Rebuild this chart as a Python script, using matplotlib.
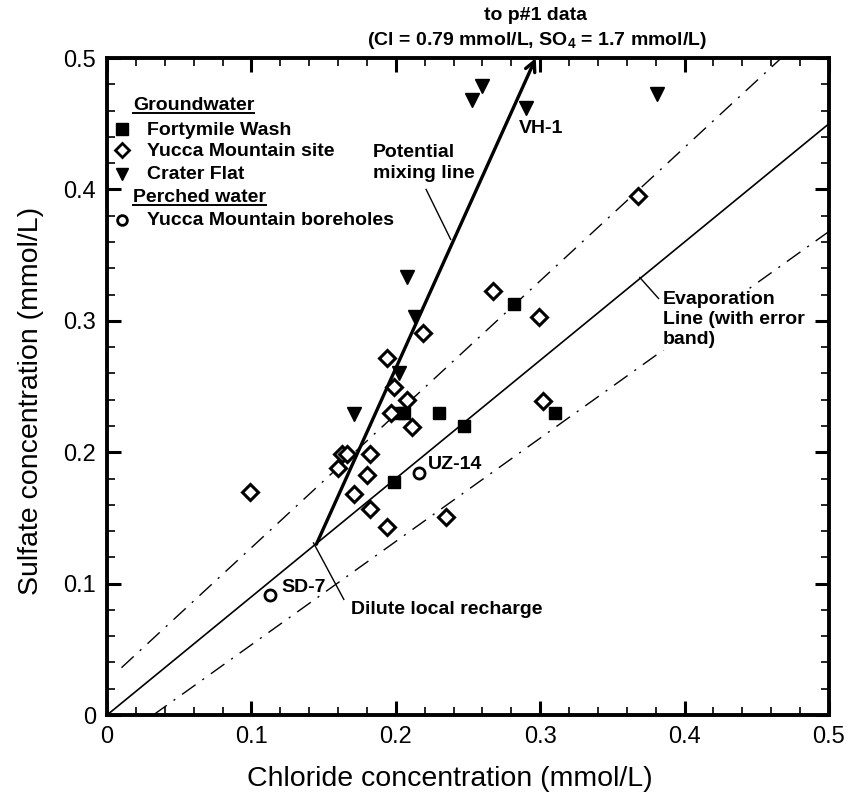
import numpy as np
import matplotlib
matplotlib.use("Agg")
import matplotlib.pyplot as plt
from matplotlib.ticker import MultipleLocator

plt.rcParams["font.family"] = ["Liberation Sans", "DejaVu Sans"]
plt.rcParams["mathtext.fontset"] = "custom"
plt.rcParams["mathtext.bf"] = "Liberation Sans:bold"
plt.rcParams["mathtext.rm"] = "Liberation Sans"

# Fortymile Wash groundwater (filled squares)
fw_cl = [0.282, 0.310, 0.230, 0.247, 0.199, 0.202, 0.206]
fw_so4 = [0.313, 0.230, 0.230, 0.220, 0.177, 0.230, 0.230]

# Yucca Mountain site groundwater (open diamonds)
ym_cl = [0.368, 0.267, 0.299, 0.302, 0.219, 0.194, 0.199, 0.208, 0.197, 0.211,
         0.163, 0.166, 0.182, 0.160, 0.180, 0.171, 0.182, 0.194, 0.235, 0.099]
ym_so4 = [0.395, 0.323, 0.303, 0.239, 0.291, 0.272, 0.250, 0.240, 0.230, 0.219,
          0.199, 0.199, 0.199, 0.188, 0.183, 0.168, 0.157, 0.143, 0.151, 0.170]

# Crater Flat groundwater (filled down triangles)
cf_cl = [0.260, 0.253, 0.290, 0.381, 0.208, 0.213, 0.202, 0.171]
cf_so4 = [0.479, 0.468, 0.462, 0.473, 0.333, 0.303, 0.260, 0.229]

# Perched water, Yucca Mountain boreholes (open circles)
pw_cl = [0.113, 0.216]
pw_so4 = [0.091, 0.184]

# evaporation line and error band
evap_x = [0.0, 0.5]
evap_y = [0.0, 0.45]
upper_x = [0.01, 0.467]
upper_y = [0.036, 0.5]
lower_x = [0.032, 0.5]
lower_y = [0.0, 0.368]

# potential mixing line: dilute local recharge -> p#1 data
mix_start = (0.145, 0.130)
mix_end = (0.297, 0.500)

fig = plt.figure(figsize=(8.59, 7.95), dpi=100)
ax = fig.add_axes([0.1246, 0.1006, 0.8404, 0.8264])

dashdot = (0, (12, 6, 1.5, 6))
ax.plot(evap_x, evap_y, color="black", lw=1.2)
ax.plot(upper_x, upper_y, color="black", lw=1.0, linestyle=dashdot)
ax.plot(lower_x, lower_y, color="black", lw=1.0, linestyle=dashdot)

ax.annotate("", xy=mix_end, xytext=mix_start,
            arrowprops=dict(arrowstyle="->", lw=2.4, color="black",
                            shrinkA=0, shrinkB=0, mutation_scale=18),
            annotation_clip=False)

mk = dict(linestyle="none", color="black", clip_on=False, zorder=5)
ax.plot(fw_cl, fw_so4, marker="s", markersize=9, **mk)
ax.plot(ym_cl, ym_so4, marker="D", markersize=8, markerfacecolor="white",
        markeredgewidth=2.2, **mk)
ax.plot(cf_cl, cf_so4, marker="v", markersize=10, **mk)
ax.plot(pw_cl, pw_so4, marker="o", markersize=8, markerfacecolor="white",
        markeredgewidth=2.0, **mk)

bold = dict(fontweight="bold", fontsize=14)

ax.text(0.1205, 0.097, "SD-7", ha="left", va="center", **bold)
ax.text(0.222, 0.191, "UZ-14", ha="left", va="center", **bold)
ax.text(0.285, 0.446, "VH-1", ha="left", va="center", **bold)

ax.text(0.184, 0.420, "Potential\nmixing line", ha="left", va="center",
        linespacing=1.35, **bold)
ax.plot([0.221, 0.238], [0.400, 0.362], color="black", lw=1.0)

ax.text(0.169, 0.080, "Dilute local recharge", ha="left", va="center", **bold)
ax.plot([0.143, 0.164], [0.131, 0.088], color="black", lw=1.0)

ax.text(0.385, 0.301, "Evaporation\nLine (with error\nband)", ha="left",
        va="center", linespacing=1.25, zorder=6,
        bbox=dict(facecolor="white", edgecolor="none", pad=1), **bold)
ax.plot([0.369, 0.382], [0.333, 0.317], color="black", lw=1.0)

ax.text(0.297, 0.532, "to p#1 data", ha="center", va="center", **bold)
ax.text(0.298, 0.513, r"(Cl = 0.79 mmol/L, SO$_\mathbf{4}$ = 1.7 mmol/L)",
        ha="center", va="center", **bold)

# legend block drawn as text
leg_mx = 0.0105
leg_tx = 0.028
gw = ax.text(0.018, 0.464, "Groundwater", ha="left", va="center", **bold)
ax.plot([leg_mx], [0.446], marker="s", markersize=8, **mk)
ax.text(leg_tx, 0.445, "Fortymile Wash", ha="left", va="center", **bold)
ax.plot([leg_mx], [0.430], marker="D", markersize=7, markerfacecolor="white",
        markeredgewidth=2.0, **mk)
ax.text(leg_tx, 0.429, "Yucca Mountain site", ha="left", va="center", **bold)
ax.plot([leg_mx], [0.412], marker="v", markersize=9, **mk)
ax.text(leg_tx, 0.411, "Crater Flat", ha="left", va="center", **bold)
pw = ax.text(0.018, 0.394, "Perched water", ha="left", va="center", **bold)
ax.plot([leg_mx], [0.377], marker="o", markersize=7, markerfacecolor="white",
        markeredgewidth=2.0, **mk)
ax.text(leg_tx, 0.376, "Yucca Mountain boreholes", ha="left", va="center", **bold)

ax.set_xlim(0, 0.5)
ax.set_ylim(0, 0.5)
ax.xaxis.set_major_locator(MultipleLocator(0.1))
ax.xaxis.set_minor_locator(MultipleLocator(0.02))
ax.yaxis.set_major_locator(MultipleLocator(0.1))
ax.yaxis.set_minor_locator(MultipleLocator(0.02))
fmt = plt.FuncFormatter(lambda v, p: "0" if v == 0 else f"{v:.1f}")
ax.xaxis.set_major_formatter(fmt)
ax.yaxis.set_major_formatter(fmt)
ax.tick_params(which="both", direction="in", top=True, right=True, labelsize=17)
ax.tick_params(which="major", length=10, width=2.2, pad=8)
ax.tick_params(which="minor", length=6, width=1.2)
for s in ax.spines.values():
    s.set_linewidth(2.8)

ax.set_xlabel("Chloride concentration (mmol/L)", fontsize=20.5)
ax.set_ylabel("Sulfate concentration (mmol/L)", fontsize=20.5)
ax.xaxis.set_label_coords(0.475, -0.078)
ax.yaxis.set_label_coords(-0.088, 0.478)

# underline the two legend headings
fig.canvas.draw()
r = fig.canvas.get_renderer()
inv = ax.transData.inverted()
for t in (gw, pw):
    bb = t.get_window_extent(r)
    (x0, y0), (x1, _) = inv.transform([(bb.x0, bb.y0 + 1), (bb.x1, bb.y0 + 1)])
    ax.plot([x0, x1], [y0, y0], color="black", lw=1.4, clip_on=False)

fig.savefig("out.png", dpi=100)
